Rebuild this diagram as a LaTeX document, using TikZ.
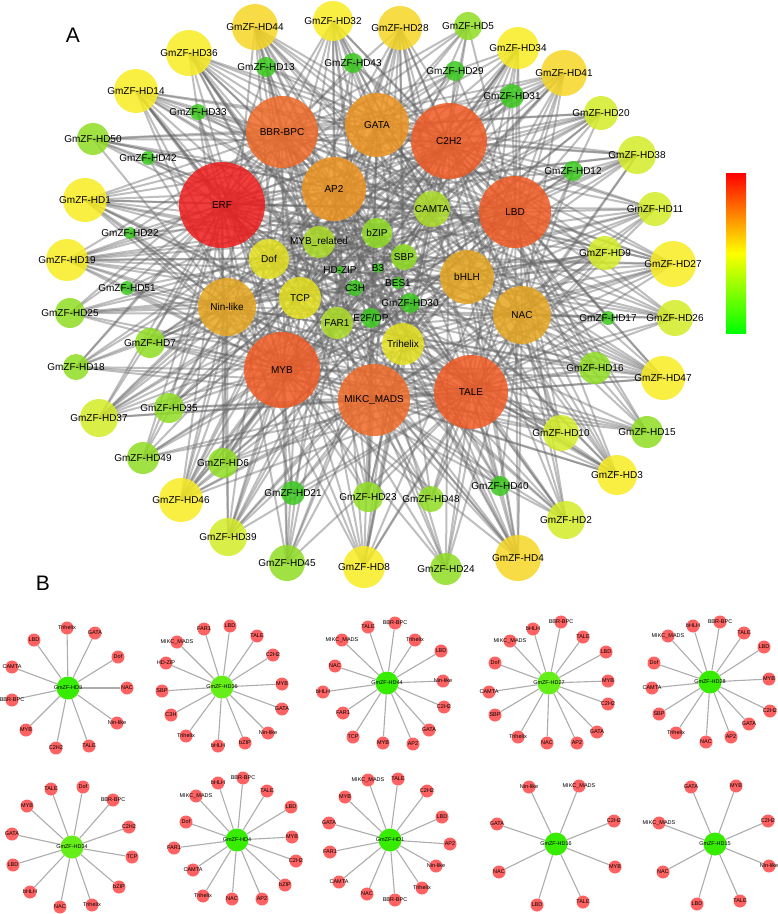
\documentclass[tikz,border=0pt]{standalone}
\usepackage{fontspec}
\setmainfont{Liberation Sans}
\usetikzlibrary{backgrounds}
\pgfdeclarelayer{fg}
\pgfsetlayers{background,main,fg}
\definecolor{cERF}{HTML}{EE1C1C}
\definecolor{cOR}{HTML}{F05A24}
\definecolor{cOR2}{HTML}{EE6A28}
\definecolor{cAM}{HTML}{EE9320}
\definecolor{cGO}{HTML}{E6A620}
\definecolor{cY2}{HTML}{E4E01E}
\definecolor{cYe}{HTML}{F8EC22}
\definecolor{cYe2}{HTML}{F6D625}
\definecolor{cLY}{HTML}{D4EC28}
\definecolor{cYG}{HTML}{ACDC28}
\definecolor{cLG}{HTML}{90DC24}
\definecolor{cG}{HTML}{3CC81E}
\definecolor{bred}{HTML}{FF6262}
\definecolor{bgreen}{HTML}{38EC00}
\definecolor{blime}{HTML}{66EE18}
\tikzset{
  anode/.style={circle, inner sep=0pt, fill opacity=0.85, draw=none},
  alab/.style={font=\fontsize{10}{12}\selectfont, inner sep=0pt, text=black},
  aedge/.style={draw=black!60, opacity=0.42, line width=2pt},
  bsat/.style={circle, inner sep=0pt, minimum size=13pt, fill=bred},
  bcen/.style={circle, inner sep=0pt, minimum size=23pt},
  blab/.style={font=\fontsize{5.5}{6}\selectfont, inner sep=0pt, text=black},
  bedge/.style={draw=black!32, line width=1.1pt},
  panel/.style={font=\fontsize{21}{24}\selectfont, inner sep=0pt},
}
\newcommand\an[6]{%
  \node[anode, fill=#5, minimum size=#4*2pt] (#1) at (#2,#3) {};
  \begin{pgfonlayer}{fg}\node[alab] at (#1) {#6};\end{pgfonlayer}}
\newcommand\bstar[6]{%
  \node[bcen, fill=#5] (#1) at (#2,#3) {};
  \begin{pgfonlayer}{fg}\node[blab] at (#1) {#4};\end{pgfonlayer}
  \foreach \sx/\sy/\st [count=\i] in {#6} {
    \node[bsat] (#1s\i) at (\sx,\sy) {};
    \draw[bedge] (#1) -- (#1s\i);
    \begin{pgfonlayer}{fg}\node[blab] at (#1s\i) {\st};\end{pgfonlayer}
  }}
\begin{document}
\begin{tikzpicture}[x=1pt,y=-1pt]
\useasboundingbox (0,0) rectangle (778,914);
% ---------- panel A : TF nodes ----------
\an{ERF}{222}{205}{43}{cERF}{ERF}
\an{BBR}{282}{132}{36}{cOR2}{BBR-BPC}
\an{GATA}{377}{125}{32}{cAM}{GATA}
\an{C2H2}{449}{141}{38}{cOR}{C2H2}
\an{AP2}{334}{189}{32}{cAM}{AP2}
\an{LBD}{515}{212}{36}{cOR}{LBD}
\an{CAMTA}{432}{209}{18}{cYG}{CAMTA}
\an{MYBr}{319}{242}{16}{cYG}{MYB\_related}
\an{bZIP}{377}{233}{15}{cLG}{bZIP}
\an{SBP}{404}{257}{13}{cLG}{SBP}
\an{Dof}{269}{259}{20}{cY2}{Dof}
\an{HDZIP}{340}{270}{4}{cG}{HD-ZIP}
\an{B3}{378}{268}{5}{cG}{B3}
\an{BES1}{398}{283}{6}{cG}{BES1}
\an{C3H}{355}{288}{8}{cG}{C3H}
\an{TCP}{300}{298}{21}{cY2}{TCP}
\an{bHLH}{467}{277}{27}{cGO}{bHLH}
\an{Nin}{227}{307}{29}{cGO}{Nin-like}
\an{NAC}{522}{315}{29}{cGO}{NAC}
\an{FAR1}{337}{323}{16}{cYG}{FAR1}
\an{E2F}{371}{318}{10}{cG}{E2F/DP}
\an{Tri}{403}{344}{21}{cY2}{Trihelix}
\an{MYB}{282}{370}{38}{cOR}{MYB}
\an{MIKC}{374}{400}{36}{cOR2}{MIKC\_MADS}
\an{TALE}{471}{392}{37}{cOR}{TALE}
\an{h30}{410}{303}{10}{cG}{GmZF-HD30}
% ---------- panel A : HD nodes ----------
\an{h44}{255}{27}{23}{cYe2}{GmZF-HD44}
\an{h32}{333}{21}{20}{cYe}{GmZF-HD32}
\an{h28}{400}{28}{22}{cYe2}{GmZF-HD28}
\an{h5}{468}{26}{14}{cLG}{GmZF-HD5}
\an{h34}{518}{48}{21}{cYe}{GmZF-HD34}
\an{h41}{564}{73}{23}{cYe2}{GmZF-HD41}
\an{h36}{189}{53}{23}{cYe}{GmZF-HD36}
\an{h13}{266}{67}{10}{cG}{GmZF-HD13}
\an{h43}{353}{63}{10}{cG}{GmZF-HD43}
\an{h29}{455}{71}{10}{cG}{GmZF-HD29}
\an{h31}{512}{96}{12}{cG}{GmZF-HD31}
\an{h14}{136}{91}{22}{cYe}{GmZF-HD14}
\an{h33}{198}{112}{8}{cG}{GmZF-HD33}
\an{h20}{601}{113}{17}{cLY}{GmZF-HD20}
\an{h50}{93}{139}{16}{cLG}{GmZF-HD50}
\an{h42}{148}{158}{7}{cG}{GmZF-HD42}
\an{h38}{637}{155}{19}{cLY}{GmZF-HD38}
\an{h12}{573}{171}{10}{cG}{GmZF-HD12}
\an{h1}{85}{200}{22}{cYe}{GmZF-HD1}
\an{h11}{655}{209}{17}{cLY}{GmZF-HD11}
\an{h22}{130}{233}{6}{cG}{GmZF-HD22}
\an{h9}{605}{253}{17}{cLY}{GmZF-HD9}
\an{h19}{67}{260}{21}{cYe}{GmZF-HD19}
\an{h27}{673}{264}{23}{cYe}{GmZF-HD27}
\an{h51}{127}{288}{7}{cG}{GmZF-HD51}
\an{h25}{70}{313}{15}{cLG}{GmZF-HD25}
\an{h17}{608}{318}{7}{cG}{GmZF-HD17}
\an{h26}{675}{318}{18}{cLY}{GmZF-HD26}
\an{h7}{150}{343}{15}{cLG}{GmZF-HD7}
\an{h18}{76}{367}{13}{cLG}{GmZF-HD18}
\an{h16}{595}{368}{16}{cLG}{GmZF-HD16}
\an{h47}{663}{378}{22}{cYe}{GmZF-HD47}
\an{h35}{169}{408}{15}{cLG}{GmZF-HD35}
\an{h37}{99}{418}{19}{cLY}{GmZF-HD37}
\an{h10}{561}{433}{18}{cLY}{GmZF-HD10}
\an{h15}{647}{432}{16}{cLG}{GmZF-HD15}
\an{h49}{143}{458}{16}{cLG}{GmZF-HD49}
\an{h6}{223}{463}{15}{cLG}{GmZF-HD6}
\an{h3}{617}{475}{20}{cYe}{GmZF-HD3}
\an{h21}{293}{493}{12}{cG}{GmZF-HD21}
\an{h23}{368}{497}{15}{cLG}{GmZF-HD23}
\an{h48}{431}{499}{13}{cLG}{GmZF-HD48}
\an{h40}{500}{486}{10}{cG}{GmZF-HD40}
\an{h46}{181}{500}{22}{cYe}{GmZF-HD46}
\an{h2}{566}{520}{19}{cLY}{GmZF-HD2}
\an{h39}{228}{537}{19}{cLY}{GmZF-HD39}
\an{h45}{287}{563}{18}{cLG}{GmZF-HD45}
\an{h8}{364}{567}{21}{cYe}{GmZF-HD8}
\an{h24}{446}{569}{16}{cLG}{GmZF-HD24}
\an{h4}{518}{558}{23}{cYe2}{GmZF-HD4}
% ---------- panel A : edges ----------
\begin{pgfonlayer}{background}
\fill[white] (0,0) rectangle (778,914);
\foreach \h/\l in {
 h8/{Tri,GATA,Dof,NAC,Nin,TALE,C2H2,MYB,BBR,CAMTA,LBD,AP2,SBP},
 h36/{FAR1,LBD,TALE,C2H2,MYB,GATA,Nin,bZIP,bHLH,Tri,C3H,SBP,HDZIP,MIKC,CAMTA,E2F},
 h44/{TALE,BBR,Tri,LBD,Nin,C2H2,GATA,AP2,MYB,TCP,FAR1,bHLH,NAC,MIKC,CAMTA,SBP},
 h27/{BBR,bHLH,MIKC,Dof,CAMTA,SBP,Tri,NAC,AP2,GATA,C2H2,MYB,LBD,TALE,FAR1},
 h28/{BBR,bHLH,MIKC,Dof,CAMTA,SBP,Tri,NAC,AP2,GATA,C2H2,MYB,LBD,TALE,TCP,C3H},
 h34/{Dof,TALE,MYB,GATA,LBD,bHLH,NAC,Tri,bZIP,TCP,C2H2,BBR,FAR1,E2F},
 h4/{BBR,bHLH,MIKC,Dof,FAR1,CAMTA,Tri,NAC,AP2,bZIP,C2H2,MYB,LBD,TALE,ERF},
 h1/{MIKC,MYB,GATA,FAR1,CAMTA,NAC,BBR,Tri,Nin,AP2,LBD,C2H2,TALE,bHLH,SBP,bZIP},
 h16/{Nin,MIKC,C2H2,MYB,TALE,LBD,NAC,GATA,Dof},
 h15/{GATA,MYB,C2H2,Nin,TALE,LBD,NAC,MIKC,Dof},
 h32/{ERF,BBR,GATA,C2H2,AP2,LBD,MYB,MIKC,TALE,NAC,bHLH,Dof,CAMTA,FAR1,Tri,E2F},
 h14/{ERF,BBR,GATA,C2H2,AP2,MYB,MIKC,TALE,Nin,Dof,TCP,LBD,FAR1,CAMTA,SBP,bZIP},
 h19/{ERF,BBR,AP2,MYB,MIKC,TALE,Nin,Dof,TCP,LBD,C2H2,bHLH,MYBr,NAC,CAMTA,SBP},
 h46/{ERF,MYB,MIKC,TALE,Nin,Dof,TCP,BBR,GATA,C2H2,LBD,FAR1,AP2,CAMTA,bHLH,NAC},
 h41/{ERF,C2H2,LBD,GATA,BBR,TALE,NAC,bHLH,MYB,CAMTA,AP2,MIKC,Dof,TCP,FAR1},
 h47/{ERF,TALE,NAC,LBD,C2H2,MYB,MIKC,bHLH,BBR,Tri,AP2,GATA,Dof,Nin,TCP},
 h3/{ERF,TALE,NAC,LBD,MIKC,MYB,C2H2,bHLH,BBR,AP2,GATA,Tri,Dof,Nin},
 h38/{ERF,C2H2,LBD,GATA,BBR,NAC,TALE,MYB,AP2,bHLH,Nin,Dof,TCP},
 h11/{ERF,LBD,C2H2,NAC,bHLH,TALE,MIKC,BBR,GATA,MYB,Dof,TCP,Nin},
 h9/{ERF,LBD,NAC,bHLH,TALE,C2H2,MYB,AP2,MIKC,Nin,TCP,FAR1},
 h37/{ERF,MYB,Nin,MIKC,TALE,BBR,TCP,Dof,C2H2,AP2,LBD,bHLH,CAMTA},
 h39/{ERF,MYB,MIKC,TALE,Nin,TCP,BBR,LBD,FAR1,C2H2,GATA,CAMTA,bHLH},
 h2/{ERF,TALE,MIKC,NAC,LBD,MYB,C2H2,Tri,BBR,bHLH,AP2,Dof},
 h10/{ERF,TALE,NAC,LBD,MIKC,MYB,C2H2,GATA,BBR,Dof},
 h20/{ERF,C2H2,LBD,GATA,BBR,AP2,CAMTA,MYB,TALE,Nin,Dof,FAR1},
 h26/{ERF,NAC,LBD,TALE,C2H2,bHLH,MIKC,BBR,AP2,Nin,Dof},
 h50/{ERF,BBR,GATA,C2H2,AP2,MYB,LBD,bHLH,CAMTA,NAC},
 h25/{ERF,Nin,MYB,BBR,TCP,LBD,TALE,NAC,bHLH,CAMTA},
 h7/{ERF,Nin,MYB,MIKC,Dof,TALE,C2H2,NAC,bHLH,CAMTA},
 h18/{ERF,MYB,Nin,MIKC,BBR,AP2,TALE,LBD,C2H2},
 h35/{ERF,MYB,MIKC,Nin,TALE,TCP,LBD,GATA,C2H2,bZIP},
 h49/{ERF,MYB,MIKC,TALE,Nin,BBR,C2H2,LBD,bHLH},
 h6/{ERF,MYB,MIKC,TALE,Nin,LBD,GATA,C2H2,bZIP,CAMTA},
 h45/{ERF,MYB,MIKC,TALE,TCP,BBR,C2H2,AP2,GATA,CAMTA},
 h24/{ERF,TALE,MIKC,MYB,NAC,LBD,C2H2,AP2,BBR},
 h23/{ERF,MIKC,TALE,MYB,Tri,BBR,AP2,GATA,C2H2,bZIP},
 h48/{ERF,TALE,MIKC,MYB,NAC,LBD,GATA,BBR},
 h5/{ERF,C2H2,GATA,LBD,BBR,AP2,Tri,FAR1},
 h13/{ERF,BBR,GATA,C2H2,Tri,TCP},
 h43/{ERF,GATA,C2H2,LBD,TCP,FAR1},
 h33/{ERF,BBR,MYB,AP2,CAMTA},
 h42/{ERF,BBR,MYB,NAC},
 h22/{ERF,MYB,Nin,BBR,LBD},
 h51/{ERF,Nin,MYB,TALE,LBD,C2H2},
 h29/{ERF,C2H2,GATA,LBD,TCP,Dof},
 h31/{ERF,C2H2,LBD,BBR,FAR1,Nin},
 h12/{ERF,LBD,C2H2,NAC,MYB,Nin},
 h17/{ERF,NAC,LBD,TALE,MYB},
 h21/{ERF,MYB,MIKC,TALE,GATA,LBD},
 h40/{ERF,TALE,MIKC,NAC,BBR,AP2},
 h30/{ERF,MYB,TALE}} {
  \foreach \t in \l { \draw[aedge] (\h.center) -- (\t.center); }
}
\end{pgfonlayer}
% ---------- colour bar ----------
\shade[top color=red, bottom color=green, middle color=yellow] (726,173) rectangle (746,333);
% ---------- panel labels ----------
\node[panel] (lA) at (73,35) {A};
\node[panel] (lB) at (43,583) {B};
% ---------- panel B ----------
\bstar{sa}{68}{688}{GmZF-HD8}{bgreen}{67/628/Trihelix, 95/633/GATA, 118/657/Dof, 127/688/NAC, 117/723/Nin-like, 89/746/TALE, 56/748/C2H2, 26/730/MYB, 12/700/BBR-BPC, 12/667/CAMTA, 34/640/LBD}
\bstar{sb}{222}{687}{GmZF-HD36}{blime}{204/629/FAR1, 230/626/LBD, 257/636/TALE, 273/655/C2H2, 282/684/MYB, 282/709/GATA, 268/733/Nin-like, 245/743/bZIP, 218/746/bHLH, 186/736/Trihelix, 171/715/C3H, 162/691/SBP, 166/663/HD-ZIP, 177/642/MIKC\_MADS}
\bstar{sc}{387}{683}{GmZF-HD44}{bgreen}{368/627/TALE, 395/623/BBR-BPC, 415/640/Trihelix, 441/651/LBD, 443/681/Nin-like, 444/707/C2H2, 429/730/GATA, 413/744/AP2, 383/743/MYB, 353/737/TCP, 343/713/FAR1, 323/692/bHLH, 335/666/NAC, 342/640/MIKC\_MADS}
\bstar{sd}{549}{683}{GmZF-HD27}{blime}{561/622/BBR-BPC, 533/629/bHLH, 510/641/MIKC\_MADS, 495/663/Dof, 489/692/CAMTA, 495/715/SBP, 518/737/Trihelix, 547/743/NAC, 577/743/AP2, 597/732/GATA, 608/704/C2H2, 608/681/MYB, 606/652/LBD, 583/637/TALE}
\bstar{se}{710}{682}{GmZF-HD28}{bgreen}{720/622/BBR-BPC, 693/626/bHLH, 668/636/MIKC\_MADS, 654/663/Dof, 652/688/CAMTA, 659/714/SBP, 676/733/Trihelix, 706/742/NAC, 731/737/AP2, 749/724/GATA, 770/711/C2H2, 769/679/MYB, 764/647/LBD, 744/633/TALE}
\bstar{sf}{72}{847}{GmZF-HD34}{blime}{83/787/Dof, 51/789/TALE, 27/806/MYB, 12/834/GATA, 13/865/LBD, 30/892/bHLH, 60/907/NAC, 92/905/Trihelix, 119/887/bZIP, 132/857/TCP, 129/827/C2H2, 113/800/BBR-BPC}
\bstar{sg}{237}{840}{GmZF-HD4}{bgreen}{243/778/BBR-BPC, 218/783/bHLH, 196/796/MIKC\_MADS, 186/822/Dof, 174/848/FAR1, 193/870/CAMTA, 203/896/Trihelix, 232/899/NAC, 262/899/AP2, 285/885/bZIP, 296/861/C2H2, 292/837/MYB, 291/807/LBD, 267/791/TALE}
\bstar{sh}{390}{840}{GmZF-HD1}{bgreen}{368/780/MIKC\_MADS, 345/797/MYB, 329/823/GATA, 330/852/FAR1, 339/882/CAMTA, 367/894/NAC, 395/900/BBR-BPC, 422/888/Trihelix, 436/866/Nin-like, 450/844/AP2, 442/817/LBD, 427/791/C2H2, 398/779/TALE}
\bstar{si}{556}{844}{GmZF-HD16}{bgreen}{529/787/Nin-like, 579/786/MIKC\_MADS, 614/821/C2H2, 615/867/MYB, 583/902/TALE, 537/905/LBD, 499/872/NAC, 497/824/GATA}
\bstar{sj}{715}{844}{GmZF-HD15}{bgreen}{691/787/GATA, 736/786/MYB, 768/821/C2H2, 769/866/Nin-like, 740/901/TALE, 697/904/LBD, 663/872/NAC, 659/823/MIKC\_MADS}
\end{tikzpicture}
\end{document}
